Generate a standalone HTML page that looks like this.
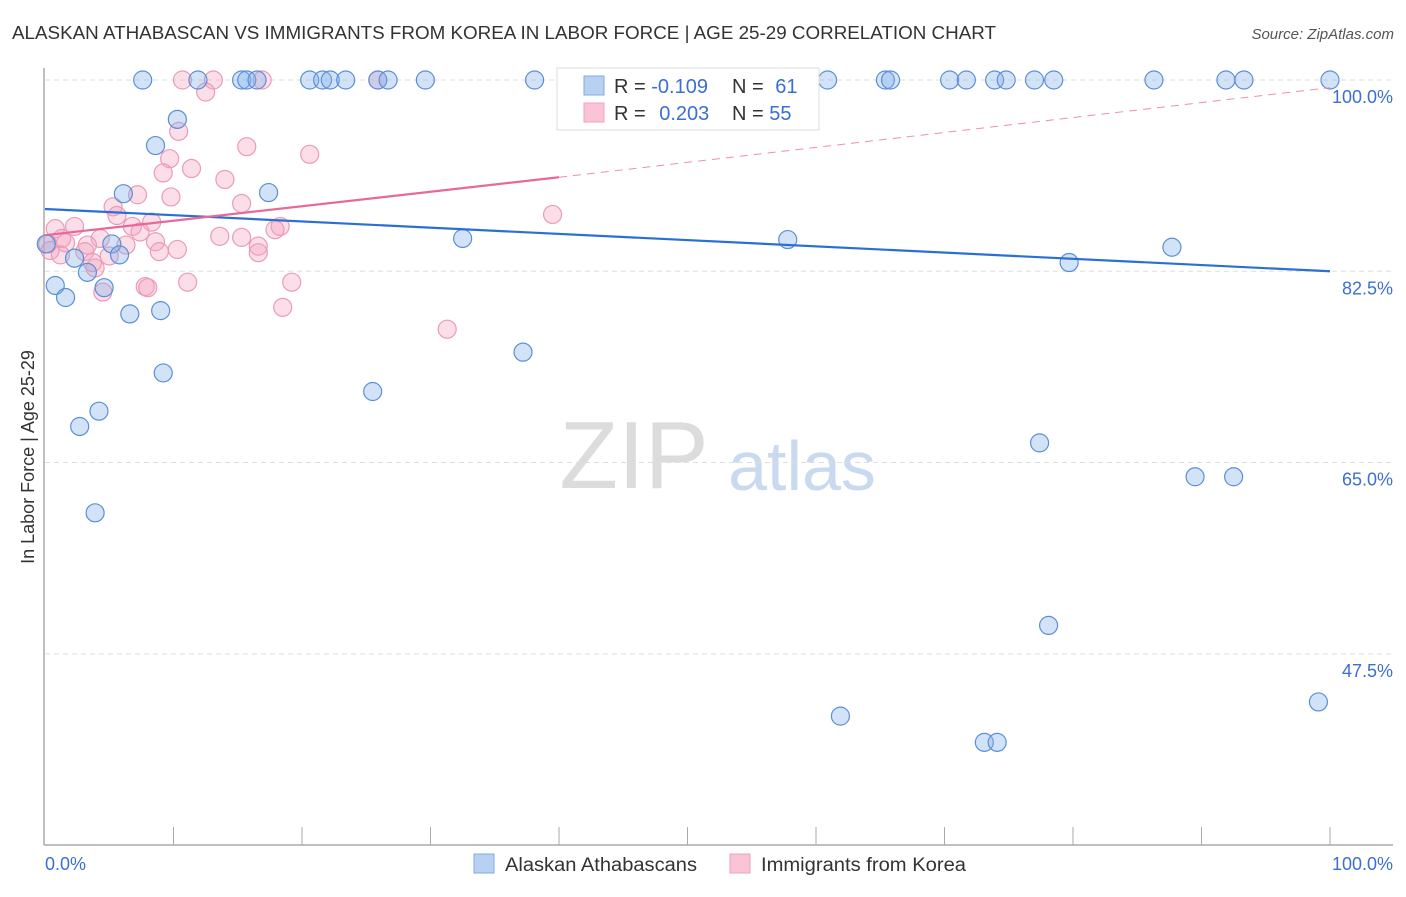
<!DOCTYPE html>
<html><head><meta charset="utf-8"><style>
body{margin:0;background:#fff;font-family:"Liberation Sans",sans-serif;}
svg text{font-family:"Liberation Sans",sans-serif;}
</style></head><body>
<svg id="chart" width="1406" height="892" xmlns="http://www.w3.org/2000/svg">
<text x="12" y="39" font-size="18" fill="#333" textLength="984" lengthAdjust="spacingAndGlyphs">ALASKAN ATHABASCAN VS IMMIGRANTS FROM KOREA IN LABOR FORCE | AGE 25-29 CORRELATION CHART</text>
<text x="1394" y="39" font-size="15" fill="#555" text-anchor="end" font-style="italic">Source: ZipAtlas.com</text>
<g>
<text x="634" y="488" font-size="96" fill="#dcdcdc" text-anchor="middle" font-family="Liberation Serif, serif">ZIP</text>
<text x="802" y="490" font-size="70" fill="#c9daf0" text-anchor="middle">atlas</text>
</g>
<g id="grid"></g>
<g id="axes"></g>
<g id="marks"></g>
<text transform="translate(34,457) rotate(-90)" font-size="18" fill="#333" text-anchor="middle">In Labor Force | Age 25-29</text>
<g>
<rect x="557" y="68" width="262" height="62" fill="#fff" stroke="#ddd"/>
<rect x="584" y="76" width="20" height="19" fill="#b8d1f3" stroke="#7fa8e0"/>
<rect x="584" y="103" width="20" height="19" fill="#f9c5d5" stroke="#eea2bc"/>
<text x="614" y="93" font-size="20" fill="#333">R = <tspan fill="#3b6fd4">-0.109</tspan></text>
<text x="732" y="93" font-size="20" fill="#333">N = <tspan fill="#3b6fd4" dx="6">61</tspan></text>
<text x="614" y="120" font-size="20" fill="#333">R = <tspan fill="#3b6fd4" dx="8">0.203</tspan></text>
<text x="732" y="120" font-size="20" fill="#333">N = <tspan fill="#3b6fd4">55</tspan></text>
</g>
<g>
<rect x="474" y="854" width="20" height="19" fill="#b8d1f3" stroke="#7fa8e0"/>
<text x="505" y="871" font-size="19" fill="#333" textLength="192" lengthAdjust="spacingAndGlyphs">Alaskan Athabascans</text>
<rect x="730" y="854" width="20" height="19" fill="#f9c5d5" stroke="#eea2bc"/>
<text x="761" y="871" font-size="19" fill="#333" textLength="205" lengthAdjust="spacingAndGlyphs">Immigrants from Korea</text>
</g>
</svg>
<script>
const yTicks=[100,82.5,65,47.5];
const yTickLabels=["100.0%","82.5%","65.0%","47.5%"];
const xTickLabels=["0.0%","100.0%"];
const blueX=[7.6,11.9,15.3,15.7,16.5,20.6,21.6,22.2,23.4,25.9,26.7,29.6,38.1,50.0,53.0,60.9,65.4,65.8,70.4,71.7,73.9,74.8,77.0,78.5,86.3,91.9,93.3,100,
10.3,8.6,6.1,17.4,32.5,57.8,87.7,79.7,0.1,5.2,5.8,2.3,3.3,0.8,4.6,1.6,6.6,9.0,37.2,9.2,25.5,4.2,2.7,77.4,89.5,92.5,3.9,78.1,61.9,73.1,74.1,99.1];
const blueY=[100,100,100,100,100,100,100,100,100,100,100,100,100,100,100,100,100,100,100,100,100,100,100,100,100,100,100,100,
96.4,94.0,89.6,89.7,85.5,85.4,84.7,83.3,85.0,85.0,84.0,83.7,82.4,81.2,81.0,80.1,78.6,78.9,75.1,73.2,71.5,69.7,68.3,66.8,63.7,63.7,60.4,50.1,41.8,39.4,39.4,43.1];
const pinkX=[10.7,13.1,16.9,25.9,12.5,10.4,15.7,20.6,9.7,11.4,9.2,14.0,7.2,15.3,9.8,5.3,39.5,5.6,8.3,2.3,6.8,7.4,0.8,18.3,17.9,1.3,4.3,13.6,15.3,8.6,6.3,1.6,0.2,3.3,16.6,10.3,3.1,8.9,5.0,16.6,3.9,3.7,7.8,8.0,11.1,19.2,4.5,18.5,31.3,0.4,1.2];
const pinkY=[100,100,100,100,98.9,95.3,93.9,93.2,92.8,91.9,91.5,90.9,89.5,88.7,89.3,88.4,87.7,87.6,87.0,86.6,86.6,86.1,86.4,86.6,86.3,85.5,85.5,85.7,85.6,85.2,84.9,85.1,85.0,84.9,84.8,84.5,84.3,84.3,83.9,84.2,82.8,83.3,81.1,81.0,81.5,81.5,80.6,79.2,77.2,84.4,84.0];
const blueTrend=[88.2,82.5];
const pinkTrend=[85.8,91.1,99.3];
const NS="http://www.w3.org/2000/svg";
const X=v=>45+v*12.85;
const Y=v=>80+(100-v)*10.93;
function mk(tag,attrs,parent){const e=document.createElementNS(NS,tag);for(const k in attrs)e.setAttribute(k,attrs[k]);document.getElementById(parent).appendChild(e);return e;}
yTicks.forEach((t,i)=>{
 const l=mk('line',{x1:45,x2:1393,y1:Y(t),y2:Y(t),stroke:'#ddd','stroke-dasharray':'5,4'},'grid');
 
 
 const tx=mk('text',{x:1393,y:Y(t)+23,'font-size':18,fill:'#3b6fd4','text-anchor':'end'},'axes');
 tx.textContent=yTickLabels[i];
 
 
});
let a=mk('line',{x1:44,x2:44,y1:68,y2:845,stroke:'#aaa','stroke-width':1.5},'axes');


a=mk('line',{x1:44,x2:1393,y1:845,y2:845,stroke:'#aaa','stroke-width':1.5},'axes');


for(let k=1;k<=10;k++){const t=mk('line',{x1:X(k*10),x2:X(k*10),y1:827,y2:845,stroke:'#aaa'},'axes');
 
 }
let xl=mk('text',{x:45,y:870,'font-size':18,fill:'#3b6fd4'},'axes');xl.textContent=xTickLabels[0];


xl=mk('text',{x:1393,y:870,'font-size':18,fill:'#3b6fd4','text-anchor':'end'},'axes');xl.textContent=xTickLabels[1];


pinkX.forEach((v,i)=>{const c=mk('circle',{cx:X(v),cy:Y(pinkY[i]),r:9,fill:'rgba(244,160,188,0.35)',stroke:'#eb9bb7','stroke-width':1.2},'marks');
 
 });
blueX.forEach((v,i)=>{const c=mk('circle',{cx:X(v),cy:Y(blueY[i]),r:9,fill:'rgba(130,176,232,0.35)',stroke:'#5a8fd8','stroke-width':1.2},'marks');
 
 });
let t1=mk('line',{x1:X(0),y1:Y(blueTrend[0]),x2:X(100),y2:Y(blueTrend[1]),stroke:'#2a6fd6','stroke-width':2.2},'marks');


let t2=mk('line',{x1:X(0),y1:Y(pinkTrend[0]),x2:X(40),y2:Y(pinkTrend[1]),stroke:'#e8689a','stroke-width':2.2},'marks');


let t3=mk('line',{x1:X(40),y1:Y(pinkTrend[1]),x2:X(100),y2:Y(pinkTrend[2]),stroke:'#eb8fb0','stroke-width':1,'stroke-dasharray':'8,6'},'marks');


</script>
</body></html>
